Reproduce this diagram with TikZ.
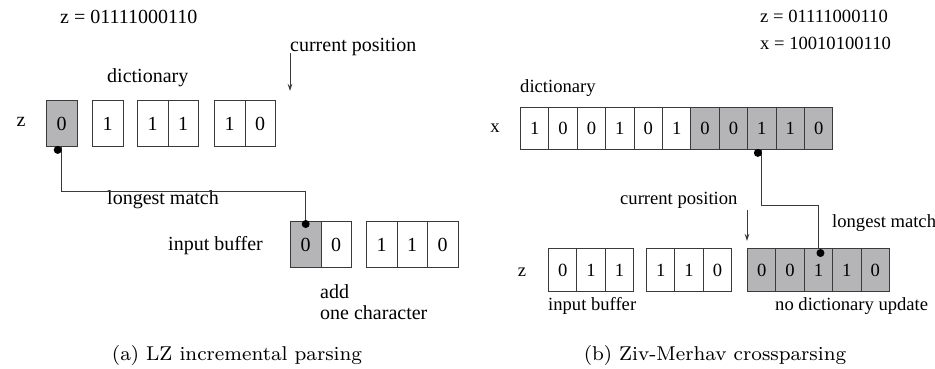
\documentclass[tikz,border=0pt]{standalone}
\usepackage{fontspec}
\newfontfamily\figfont{Liberation Serif}
\usetikzlibrary{arrows.meta}
\definecolor{cellgray}{HTML}{B5B5B7}
\definecolor{edge}{HTML}{3A3A3A}
\tikzset{
  lcell/.style={draw=edge, line width=0.9pt, minimum width=30.5pt, minimum height=46pt,
    inner sep=0pt, anchor=north west, font=\figfont\fontsize{20}{24}\selectfont},
  rcell/.style={lcell, minimum width=28.4pt, minimum height=42pt,
    font=\figfont\fontsize{18.6}{22}\selectfont},
  zcell/.style={rcell, minimum height=43pt},
  hit/.style={fill=cellgray},
  ltext/.style={inner sep=0pt, anchor=west, font=\figfont\fontsize{20}{24}\selectfont},
  rtext/.style={inner sep=0pt, anchor=west, font=\figfont\fontsize{18.6}{22}\selectfont},
  wire/.style={draw=edge, line width=0.9pt},
  pointer/.style={draw=edge, line width=0.9pt, -{Stealth[length=7pt,width=4.5pt]}},
  dot/.style={circle, fill=black, inner sep=0pt, minimum size=8pt},
  caption/.style={inner sep=0pt}
}
\begin{document}
\begin{tikzpicture}[x=1pt, y=-1pt]
\useasboundingbox (0,0) rectangle (935,369);

% ---- (a) LZ incremental parsing ----
\node[ltext] (za) at (60,17) {z = 01111000110};
\node[ltext] (cpa) at (290,47) {current position};
\node[ltext] (dica) at (107,78) {dictionary};
\node[ltext, anchor=center] (zla) at (21,122) {z};

\node[lcell, hit] (a1) at (46,100) {0};
\node[lcell] (a2) at (92,100) {1};
\node[lcell] (a3) at (137,100) {1};
\node[lcell] (a4) at (167.5,100) {1};
\node[lcell] (a5) at (214,100) {1};
\node[lcell] (a6) at (244.5,100) {0};

\node[ltext] (lma) at (107,200) {longest match};
\node[ltext] (iba) at (168,246) {input buffer};

\node[lcell, hit] (b1) at (290,221) {0};
\node[lcell] (b2) at (320.5,221) {0};
\node[lcell] (b3) at (366,221) {1};
\node[lcell] (b4) at (396.5,221) {1};
\node[lcell] (b5) at (427,221) {0};

\node[ltext] (adda) at (320,292) {add};
\node[ltext] (onea) at (320,313) {one character};

\coordinate (cpa1) at (290,53);
\coordinate (cpa2) at (290,91);
\draw[pointer] (cpa1) -- (cpa2);

\draw[wire] (a1.south) -- ++(0,45) -| (b1.north);
\node[dot] (da1) at ([xshift=-4pt, yshift=-3pt]a1.south) {};
\node[dot] (da2) at ([yshift=-3pt]b1.north) {};

\node[caption] (capa) at (237,355)
  {\scalebox{2.5}{\fontsize{8}{9}\selectfont (a) LZ incremental parsing}};

% ---- (b) Ziv-Merhav crossparsing ----
\node[rtext] (zb) at (760,16) {z = 01111000110};
\node[rtext] (xb) at (760,43) {x = 10010100110};
\node[rtext] (dicb) at (520,88) {dictionary};
\node[rtext, anchor=center] (xlb) at (495,128) {x};

\foreach \v [count=\i from 0] in {1,0,0,1,0,1} {
  \node[rcell] (x\i) at (520+\i*28.4,107) {\v};
}
\foreach \v [count=\i from 6] in {0,0,1,1,0} {
  \node[rcell, hit] (x\i) at (520+\i*28.4,107) {\v};
}

\node[rtext] (cpb) at (620,200) {current position};
\node[rtext] (lmb) at (832,223) {longest match};
\node[rtext, anchor=center] (zlb) at (522,272) {z};

\foreach \v [count=\i from 0] in {0,1,1} {
  \node[zcell] (p\i) at (548+\i*28.4,248) {\v};
}
\foreach \v [count=\i from 0] in {1,1,0} {
  \node[zcell] (q\i) at (646+\i*28.4,248) {\v};
}
\foreach \v [count=\i from 0] in {0,0,1,1,0} {
  \node[zcell, hit] (r\i) at (747+\i*28.4,248) {\v};
}

\node[rtext] (ibb) at (548,306) {input buffer};
\node[rtext] (ndb) at (775,306) {no dictionary update};

\coordinate (cpb1) at (747,210);
\coordinate (cpb2) at (747,241);
\draw[pointer] (cpb1) -- (cpb2);

\draw[wire] (x8.south) -- ++(0,56) -| (r2.north);
\node[dot] (db1) at ([xshift=-4pt, yshift=-3pt]x8.south) {};
\node[dot] (db2) at ([xshift=2pt, yshift=-5pt]r2.north) {};

\node[caption] (capb) at (715,355)
  {\scalebox{2.5}{\fontsize{8}{9}\selectfont (b) Ziv-Merhav crossparsing}};
\end{tikzpicture}
\end{document}
